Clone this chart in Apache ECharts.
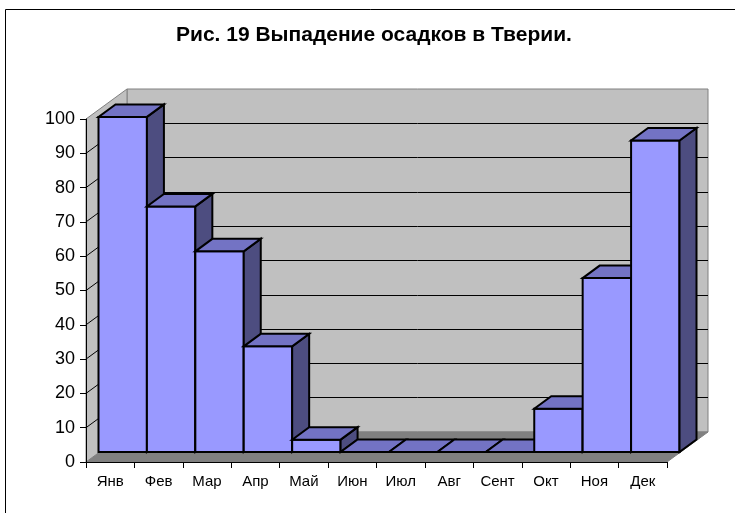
<!DOCTYPE html>
<html lang="ru">
<head>
<meta charset="utf-8">
<title>Рис. 19 Выпадение осадков в Тверии</title>
<script src="https://cdn.jsdelivr.net/npm/echarts@6/dist/echarts.min.js"></script>
<style>
  html, body { margin: 0; padding: 0; background: #fff; }
  #chart { width: 735px; height: 513px; }
</style>
</head>
<body>
<div id="chart"></div>
<script>
const months = ['Янв', 'Фев', 'Мар', 'Апр', 'Май', 'Июн', 'Июл', 'Авг', 'Сент', 'Окт', 'Ноя', 'Дек'];
const rain = [97.7, 71.6, 58.5, 30.8, 3.6, 0, 0, 0, 0, 12.6, 50.7, 90.8];

// fake 3d: back wall shift, bar shift inside the box, bar depth
const DX = 41, DY = -30;
const OX = 12.5, OY = -10;
const BX = 17, BY = -12.5;

const FONT = 'Liberation Sans, Arial, sans-serif';

function renderBox(params, api) {
  const p0 = api.coord([0, 0]);
  const bw = api.size([1, 0])[0];
  const x0 = p0[0] - bw / 2;
  const x1 = x0 + months.length * bw;
  const y0 = p0[1];
  const yTop = api.coord([0, 100])[1];
  const children = [];
  children.push({
    type: 'polygon',
    shape: { points: [[x0, y0], [x1, y0], [x1 + DX, y0 + DY], [x0 + DX, y0 + DY]] },
    style: { fill: '#808080', stroke: '#808080', lineWidth: 1 }
  });
  children.push({
    type: 'polygon',
    shape: { points: [[x0, y0], [x0 + DX, y0 + DY], [x0 + DX, yTop + DY], [x0, yTop]] },
    style: { fill: '#c0c0c0', stroke: '#808080', lineWidth: 1 }
  });
  for (let v = 10; v < 100; v += 10) {
    const y = api.coord([0, v])[1];
    children.push({
      type: 'line',
      shape: { x1: x0, y1: y, x2: x0 + DX, y2: y + DY },
      style: { stroke: '#000', lineWidth: 1 }
    });
  }
  return { type: 'group', children: children };
}

function renderBar(params, api) {
  const i = api.value(0);
  const v = api.value(1);
  const c = api.coord([i, v]);
  const b = api.coord([i, 0]);
  const bw = api.size([1, 0])[0];
  const xl = c[0] - bw / 2 + OX;
  const xr = xl + bw;
  const yt = c[1] + OY;
  const yb = b[1] + OY;
  const line = { stroke: '#000', lineWidth: 2, lineJoin: 'miter' };
  const children = [];
  if (yb - yt > 0.5) {
    children.push({
      type: 'rect',
      shape: { x: xl, y: yt, width: bw, height: yb - yt },
      style: Object.assign({ fill: '#9999ff' }, line)
    });
    children.push({
      type: 'polygon',
      shape: { points: [[xr, yt], [xr + BX, yt + BY], [xr + BX, yb + BY], [xr, yb]] },
      style: Object.assign({ fill: '#4d4d80' }, line)
    });
  }
  children.push({
    type: 'polygon',
    shape: { points: [[xl, yt], [xr, yt], [xr + BX, yt + BY], [xl + BX, yt + BY]] },
    style: Object.assign({ fill: '#7373c4' }, line)
  });
  return { type: 'group', children: children };
}

const chart = echarts.init(document.getElementById('chart'), null, { renderer: 'canvas' });
chart.setOption({
  animation: false,
  backgroundColor: '#fff',
  textStyle: { fontFamily: FONT },
  title: {
    text: 'Рис. 19 Выпадение осадков в Тверии.',
    left: 176,
    top: 25,
    padding: 0,
    textStyle: { fontFamily: FONT, fontSize: 21, fontWeight: 'bold', color: '#000' }
  },
  graphic: [{
    type: 'rect',
    shape: { x: 5.5, y: 9.5, width: 800, height: 600 },
    style: { fill: 'none', stroke: '#000', lineWidth: 1 },
    silent: true
  }],
  grid: [
    { left: 86, top: 119, width: 581, height: 343, containLabel: false },
    { left: 86 + DX, top: 119 + DY, width: 581, height: 343, containLabel: false,
      show: true, backgroundColor: '#c0c0c0', borderColor: '#808080', borderWidth: 1, z: 0 }
  ],
  xAxis: [
    {
      gridIndex: 0, type: 'category', data: months, z: 10,
      axisLine: { lineStyle: { color: '#000', width: 1 } },
      axisTick: { show: true, length: 6, lineStyle: { color: '#000' } },
      axisLabel: { color: '#000', fontSize: 15, margin: 12, fontFamily: FONT, interval: 0 }
    },
    {
      gridIndex: 1, type: 'category', data: months, show: false
    }
  ],
  yAxis: [
    {
      gridIndex: 0, type: 'value', min: 0, max: 100, interval: 10, z: 10,
      axisLine: { show: true, lineStyle: { color: '#000', width: 1 } },
      axisTick: { show: true, length: 6, lineStyle: { color: '#000' } },
      axisLabel: { color: '#000', fontSize: 18, margin: 11, fontFamily: FONT },
      splitLine: { show: false }
    },
    {
      gridIndex: 1, type: 'value', min: 0, max: 100, interval: 10,
      axisLine: { show: false }, axisTick: { show: false }, axisLabel: { show: false },
      splitLine: { show: true, showMinLine: false, showMaxLine: false, lineStyle: { color: '#000', width: 1 } }
    }
  ],
  series: [
    {
      type: 'custom', name: 'box', xAxisIndex: 0, yAxisIndex: 0,
      data: [[0, 0]], renderItem: renderBox, silent: true, z: 1, clip: false
    },
    {
      type: 'custom', name: 'Осадки', xAxisIndex: 0, yAxisIndex: 0,
      data: rain.map((v, i) => [i, v]), renderItem: renderBar, z: 3, clip: false
    }
  ]
});
</script>
</body>
</html>
